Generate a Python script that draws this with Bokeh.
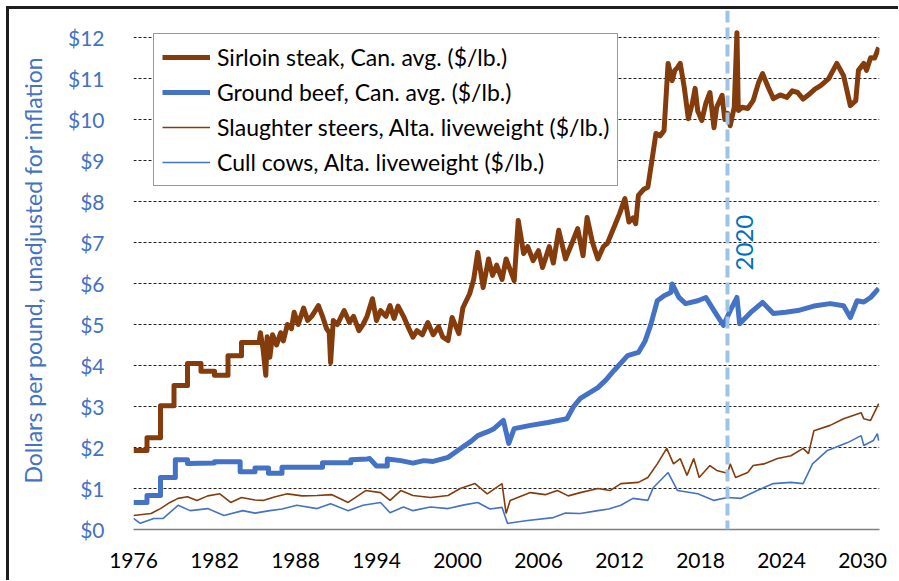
from bokeh.plotting import figure
from bokeh.models import (ColumnDataSource, FixedTicker, PrintfTickFormatter, Span,
                          Label, Legend, LegendItem, Range1d)
from bokeh.embed import file_html
from bokeh.resources import INLINE

# ---------------- data ----------------
x_ticks = [1976, 1982, 1988, 1994, 2000, 2006, 2012, 2018, 2024, 2030]
y_ticks = [0, 1, 2, 3, 4, 5, 6, 7, 8, 9, 10, 11, 12]
marker_year = 2020
marker_label = "2020"

series_names = [
    "Sirloin steak, Can. avg. ($/lb.)",
    "Ground beef, Can. avg. ($/lb.)",
    "Slaughter steers, Alta. liveweight ($/lb.)",
    "Cull cows, Alta. liveweight ($/lb.)",
]

sirloin_year = [1976.0, 1977.0, 1977.0, 1978.0, 1978.0, 1979.0, 1979.0, 1980.0, 1980.0, 1981.0,
                1981.0, 1982.0, 1982.0, 1983.0, 1983.0, 1984.0, 1984.0, 1985.3, 1985.4, 1985.6,
                1985.8, 1985.9, 1986.1, 1986.3, 1986.6, 1986.9, 1987.1, 1987.4, 1987.7, 1987.9,
                1988.2, 1988.6, 1988.9, 1989.2, 1989.7, 1990.0, 1990.3, 1990.5, 1990.6, 1990.8,
                1991.1, 1991.6, 1992.0, 1992.3, 1992.7, 1993.0, 1993.3, 1993.7, 1994.0, 1994.3,
                1994.7, 1995.0, 1995.3, 1995.6, 1996.0, 1996.4, 1996.7, 1997.0, 1997.4, 1997.8,
                1998.2, 1998.6, 1998.9, 1999.3, 1999.6, 2000.1, 2000.4, 2000.9, 2001.2, 2001.5,
                2001.9, 2002.3, 2002.6, 2002.9, 2003.3, 2003.6, 2004.2, 2004.5, 2004.9, 2005.2,
                2005.6, 2006.0, 2006.3, 2006.8, 2007.1, 2007.5, 2008.0, 2008.5, 2008.9, 2009.3,
                2009.6, 2010.0, 2010.4, 2010.8, 2011.1, 2011.7, 2012.0, 2012.4, 2012.7, 2013.0,
                2013.2, 2013.4, 2013.8, 2014.1, 2014.4, 2014.7, 2015.0, 2015.3, 2015.6, 2015.9,
                2016.1, 2016.3, 2016.5, 2016.8, 2017.1, 2017.4, 2017.6, 2017.8, 2018.1, 2018.4,
                2018.7, 2019.0, 2019.2, 2019.6, 2019.8, 2020.0, 2020.2, 2020.5, 2020.7, 2020.8,
                2021.1, 2021.5, 2021.9, 2022.3, 2022.6, 2023.0, 2023.4, 2023.9, 2024.4, 2024.8,
                2025.2, 2025.6, 2026.1, 2026.5, 2026.9, 2027.5, 2028.1, 2028.6, 2029.1, 2029.5,
                2029.7, 2030.1, 2030.3, 2030.6, 2030.9, 2031.2]
sirloin_price = [1.93, 1.93, 2.24, 2.24, 3.02, 3.02, 3.51, 3.51, 4.05, 4.05,
                 3.86, 3.86, 3.76, 3.76, 4.24, 4.24, 4.56, 4.56, 4.80, 4.40,
                 3.76, 4.70, 4.20, 4.75, 4.50, 4.80, 4.60, 5.00, 4.90, 5.30,
                 5.00, 5.40, 5.10, 5.20, 5.46, 5.20, 4.90, 4.80, 4.07, 5.10,
                 5.00, 5.34, 5.05, 5.20, 4.85, 5.00, 5.20, 5.63, 5.10, 5.34,
                 5.20, 5.46, 5.15, 5.45, 5.20, 4.90, 4.69, 4.85, 4.75, 5.05,
                 4.75, 4.95, 4.70, 4.61, 5.17, 4.78, 5.41, 5.75, 6.10, 6.76,
                 5.90, 6.60, 6.20, 6.45, 6.10, 6.60, 6.07, 7.54, 6.73, 6.90,
                 6.56, 6.80, 6.39, 6.90, 6.50, 7.30, 6.60, 7.00, 7.34, 6.68,
                 7.61, 7.00, 6.60, 6.90, 6.98, 7.46, 7.70, 8.07, 7.50, 7.60,
                 7.46, 8.15, 8.30, 8.35, 9.00, 9.66, 9.60, 9.73, 11.37, 10.95,
                 11.20, 11.27, 11.37, 10.78, 10.02, 10.40, 10.76, 10.20, 9.98, 10.40,
                 10.66, 9.80, 10.30, 10.59, 10.00, 10.15, 9.85, 10.30, 12.12, 10.22,
                 10.30, 10.27, 10.46, 10.90, 11.12, 10.80, 10.51, 10.60, 10.54, 10.70,
                 10.66, 10.50, 10.63, 10.75, 10.83, 11.00, 11.37, 11.07, 10.34, 10.46,
                 11.20, 11.37, 11.20, 11.51, 11.50, 11.76]

beef_year = [1976.0, 1977.0, 1977.0, 1978.0, 1978.0, 1979.1, 1979.1, 1980.0, 1980.0, 1982.0,
             1982.0, 1983.9, 1983.9, 1985.0, 1985.0, 1986.0, 1986.0, 1987.0, 1987.0, 1990.0,
             1990.0, 1992.1, 1992.1, 1993.3, 1993.5, 1994.0, 1994.8, 1994.8, 1995.8, 1996.7,
             1997.5, 1998.2, 1999.3, 2000.2, 2001.0, 2001.5, 2002.2, 2002.7, 2003.4, 2003.8,
             2004.2, 2005.4, 2006.7, 2008.1, 2008.6, 2009.1, 2010.4, 2011.0, 2011.6, 2012.6,
             2013.4, 2013.9, 2014.3, 2014.8, 2015.3, 2015.8, 2015.9, 2016.4, 2016.9, 2017.8,
             2018.4, 2019.0, 2019.7, 2020.2, 2020.7, 2020.9, 2021.7, 2022.6, 2023.4, 2024.3,
             2025.2, 2026.4, 2027.6, 2028.6, 2029.1, 2029.6, 2030.1, 2030.6, 2031.2]
beef_price = [0.66, 0.66, 0.83, 0.83, 1.27, 1.27, 1.70, 1.70, 1.61, 1.62,
              1.65, 1.65, 1.41, 1.41, 1.50, 1.50, 1.37, 1.37, 1.52, 1.52,
              1.63, 1.63, 1.70, 1.72, 1.73, 1.55, 1.55, 1.72, 1.68, 1.62,
              1.68, 1.66, 1.76, 1.97, 2.15, 2.29, 2.38, 2.46, 2.66, 2.10,
              2.46, 2.54, 2.61, 2.70, 3.00, 3.20, 3.46, 3.65, 3.88, 4.24,
              4.32, 4.60, 4.98, 5.58, 5.70, 5.78, 5.99, 5.66, 5.51, 5.58,
              5.66, 5.34, 4.98, 5.34, 5.66, 5.02, 5.29, 5.54, 5.27, 5.30,
              5.34, 5.45, 5.51, 5.46, 5.17, 5.58, 5.55, 5.66, 5.88]

steer_year = [1976.0, 1977.3, 1978.0, 1978.7, 1979.3, 1980.0, 1980.7, 1981.5, 1982.4, 1983.2,
              1984.0, 1985.0, 1985.6, 1986.5, 1987.4, 1988.5, 1989.6, 1990.7, 1991.9, 1993.2,
              1994.3, 1995.0, 1995.8, 1996.7, 1998.0, 1999.3, 2000.2, 2001.3, 2002.2, 2003.3,
              2003.6, 2003.9, 2005.4, 2006.5, 2007.4, 2008.2, 2009.1, 2010.4, 2011.3, 2012.1,
              2013.4, 2014.1, 2014.8, 2015.5, 2016.0, 2016.5, 2017.0, 2017.5, 2017.9, 2018.7,
              2019.2, 2020.0, 2020.2, 2020.6, 2021.5, 2021.9, 2022.7, 2023.7, 2024.7, 2025.6,
              2026.0, 2026.4, 2027.6, 2028.6, 2029.9, 2030.1, 2030.6, 2031.2]
steer_price = [0.34, 0.39, 0.51, 0.66, 0.76, 0.80, 0.71, 0.82, 0.87, 0.66,
               0.78, 0.72, 0.71, 0.80, 0.87, 0.82, 0.83, 0.85, 0.66, 0.95,
               0.90, 0.71, 0.95, 0.83, 0.78, 0.83, 1.00, 1.12, 0.87, 1.12,
               0.39, 0.71, 0.90, 0.85, 0.95, 0.82, 0.90, 1.00, 0.95, 1.12,
               1.15, 1.27, 1.60, 1.98, 1.60, 1.73, 1.32, 1.73, 1.27, 1.56,
               1.44, 1.37, 1.60, 1.27, 1.39, 1.56, 1.60, 1.73, 1.80, 1.98,
               1.85, 2.41, 2.54, 2.70, 2.85, 2.70, 2.66, 3.07]

cow_year = [1976.0, 1976.5, 1977.5, 1978.2, 1979.3, 1980.2, 1981.5, 1982.7, 1984.1, 1985.0,
            1986.1, 1987.0, 1988.1, 1989.6, 1990.6, 1991.9, 1993.0, 1994.3, 1995.0, 1996.0,
            1996.7, 1998.0, 1999.3, 2000.5, 2001.5, 2002.4, 2003.3, 2003.7, 2005.2, 2007.1,
            2008.0, 2009.1, 2010.4, 2011.2, 2012.1, 2013.0, 2014.1, 2014.5, 2015.6, 2016.3,
            2017.8, 2019.0, 2020.0, 2021.0, 2022.2, 2023.4, 2024.7, 2025.6, 2026.3, 2027.4,
            2028.9, 2029.9, 2030.1, 2030.8, 2031.1, 2031.2]
cow_price = [0.27, 0.15, 0.27, 0.27, 0.59, 0.46, 0.51, 0.34, 0.46, 0.40,
             0.46, 0.50, 0.59, 0.51, 0.63, 0.46, 0.59, 0.66, 0.41, 0.55,
             0.46, 0.55, 0.51, 0.60, 0.66, 0.50, 0.54, 0.15, 0.22, 0.29,
             0.40, 0.39, 0.46, 0.50, 0.59, 0.76, 0.71, 1.02, 1.39, 0.95,
             0.87, 0.71, 0.78, 0.76, 0.95, 1.12, 1.15, 1.12, 1.60, 1.93,
             2.12, 2.29, 2.05, 2.17, 2.34, 2.17]

# ---------------- styling ----------------
FONT = "Lato"
BROWN = "#843C0C"
BLUE = "#4472C4"
W, H = 898, 580

p = figure(width=W, height=H, output_backend="svg", toolbar_location=None,
           x_range=Range1d(1976, 2031.26), y_range=Range1d(0, 12.66),
           min_border_left=133, min_border_right=W - 879, min_border_top=10,
           min_border_bottom=H - 529)
p.outline_line_color = None
p.background_fill_color = "white"
p.border_fill_alpha = 0
# outer chart border (top and left edges) drawn as the element's CSS background
p.styles = {
    "background": ("linear-gradient(#1e1e1e, #1e1e1e) 6px 6px / 3px 100% no-repeat, "
                   "linear-gradient(#1e1e1e, #1e1e1e) 6px 6px / 100% 3px no-repeat, white"),
}

p.xgrid.grid_line_color = None
p.ygrid.ticker = FixedTicker(ticks=y_ticks)
p.ygrid.grid_line_color = "#222222"
p.ygrid.grid_line_dash = "3 2"
p.ygrid.grid_line_width = 1

xa = p.xaxis[0]
xa.ticker = FixedTicker(ticks=x_ticks)
xa.axis_line_color = "#7f7f7f"
xa.axis_line_width = 1.5
xa.major_tick_line_color = None
xa.minor_tick_line_color = None
xa.major_label_text_font = FONT
xa.major_label_text_font_size = "21px"
xa.major_label_text_color = "black"
xa.major_label_standoff = 17

ya = p.yaxis[0]
ya.ticker = FixedTicker(ticks=y_ticks)
ya.formatter = PrintfTickFormatter(format="$%d")
ya.axis_line_color = None
ya.major_tick_line_color = None
ya.minor_tick_line_color = None
ya.major_label_text_font = FONT
ya.major_label_text_font_size = "21px"
ya.major_label_text_color = BLUE
ya.major_label_standoff = 23
ya.axis_label = "Dollars per pound, unadjusted for inflation"
ya.axis_label_text_font = FONT
ya.axis_label_text_font_size = "23px"
ya.axis_label_text_font_style = "normal"
ya.axis_label_text_color = BLUE
ya.axis_label_standoff = 18

# vertical marker line
p.add_layout(Span(location=marker_year, dimension="height", line_color="#9DC3E6",
                  line_width=4, line_dash="12 5"))

src_s = ColumnDataSource(dict(x=sirloin_year, y=sirloin_price))
src_b = ColumnDataSource(dict(x=beef_year, y=beef_price))
src_t = ColumnDataSource(dict(x=steer_year, y=steer_price))
src_c = ColumnDataSource(dict(x=cow_year, y=cow_price))

r_t = p.line("x", "y", source=src_t, line_color=BROWN, line_width=1.6)
r_c = p.line("x", "y", source=src_c, line_color=BLUE, line_width=1.6)
r_b = p.line("x", "y", source=src_b, line_color=BLUE, line_width=5, line_join="round")
r_s = p.line("x", "y", source=src_s, line_color=BROWN, line_width=5, line_join="round")

p.add_layout(Label(x=marker_year + 0.65, y=6.32, text=marker_label, angle=1.5708,
                   text_align="left", text_baseline="top", text_color="#0070C0",
                   text_font=FONT, text_font_size="24px"))

legend = Legend(items=[LegendItem(label=series_names[0], renderers=[r_s]),
                       LegendItem(label=series_names[1], renderers=[r_b]),
                       LegendItem(label=series_names[2], renderers=[r_t]),
                       LegendItem(label=series_names[3], renderers=[r_c])],
                location=(20, 343))
legend.label_text_font = FONT
legend.label_text_font_size = "23px"
legend.label_text_color = "black"
legend.glyph_width = 48
legend.glyph_height = 30
legend.label_height = 30
legend.label_standoff = 7
legend.spacing = 5
legend.padding = 8
legend.margin = 0
legend.border_line_color = "#333333"
legend.border_line_width = 1
legend.background_fill_color = "white"
legend.background_fill_alpha = 1
p.add_layout(legend)

open("out.html", "w").write(file_html(p, INLINE))
